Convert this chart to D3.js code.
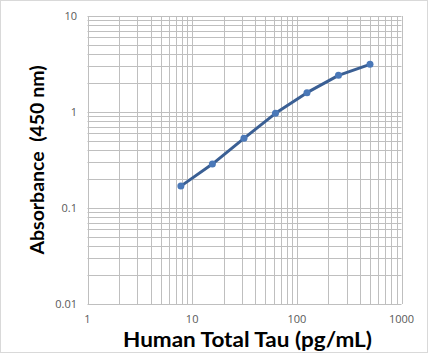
<!DOCTYPE html>
<html>
<head>
<meta charset="utf-8">
<script src="https://cdn.jsdelivr.net/npm/d3@7"></script>
<style>
  body { margin: 0; background: #fff; }
  svg { display: block; }
</style>
</head>
<body>
<svg id="chart"></svg>
<script>
const concentrations = [7.8, 15.6, 31.25, 62.5, 125, 250, 500];
const absorbance = [0.169, 0.287, 0.532, 0.968, 1.59, 2.41, 3.14];
const xTicks = [1, 10, 100, 1000];
const yTicks = [0.01, 0.1, 1, 10];

const width = 428;
const height = 355;
const margin = { top: 16, right: 26.5, bottom: 51, left: 87.5 };

const x = d3.scaleLog().domain([1, 1000]).range([margin.left, width - margin.right]);
const y = d3.scaleLog().domain([0.01, 10]).range([height - margin.bottom, margin.top]);

const svg = d3.select("#chart").attr("width", width).attr("height", height);

// outer frame
svg.append("rect")
  .attr("x", 0.5).attr("y", 0.5)
  .attr("width", width - 1).attr("height", height - 3)
  .attr("fill", "none").attr("stroke", "#d9d9d9");

// minor + major gridlines
const xGrid = x.ticks(); // 1..9 per decade
const yGrid = y.ticks();

svg.append("g")
  .selectAll("line")
  .data(xGrid)
  .join("line")
  .attr("x1", (d) => Math.round(x(d)) + 0.5)
  .attr("x2", (d) => Math.round(x(d)) + 0.5)
  .attr("y1", y(10)).attr("y2", y(0.01))
  .attr("stroke", "#bfbfbf");

svg.append("g")
  .selectAll("line")
  .data(yGrid)
  .join("line")
  .attr("y1", (d) => Math.round(y(d)) + 0.5)
  .attr("y2", (d) => Math.round(y(d)) + 0.5)
  .attr("x1", x(1)).attr("x2", x(1000))
  .attr("stroke", "#bfbfbf");

// tick labels
const fmt = (d) => (d >= 1 ? d3.format("d")(d) : String(d));

svg.append("g")
  .selectAll("text")
  .data(yTicks)
  .join("text")
  .attr("x", 77)
  .attr("y", (d) => y(d))
  .attr("dy", "0.35em")
  .attr("text-anchor", "end")
  .attr("font-family", "Open Sans, sans-serif")
  .attr("font-size", 11)
  .attr("fill", "#595959")
  .text(fmt);

svg.append("g")
  .selectAll("text")
  .data(xTicks)
  .join("text")
  .attr("x", (d) => x(d))
  .attr("y", 323)
  .attr("text-anchor", "middle")
  .attr("font-family", "Open Sans, sans-serif")
  .attr("font-size", 11)
  .attr("fill", "#595959")
  .text(fmt);

// axis titles
svg.append("text")
  .attr("x", 247.5)
  .attr("y", 347)
  .attr("text-anchor", "middle")
  .attr("font-family", "Lato, sans-serif")
  .attr("font-weight", "bold")
  .attr("font-size", 21)
  .attr("textLength", 249)
  .attr("lengthAdjust", "spacingAndGlyphs")
  .attr("fill", "#000")
  .text("Human Total Tau (pg/mL)");

svg.append("text")
  .attr("transform", "translate(44,160) rotate(-90)")
  .attr("text-anchor", "middle")
  .attr("font-family", "Lato, sans-serif")
  .attr("font-weight", "bold")
  .attr("font-size", 18)
  .attr("textLength", 189)
  .attr("lengthAdjust", "spacingAndGlyphs")
  .attr("fill", "#000")
  .style("white-space", "pre")
  .text("Absorbance  (450 nm)");

// data
const data = concentrations.map((c, i) => ({ c, a: absorbance[i] }));

svg.append("path")
  .datum(data)
  .attr("fill", "none")
  .attr("stroke", "#3a5f94")
  .attr("stroke-width", 3)
  .attr("stroke-linejoin", "round")
  .attr("d", d3.line().x((d) => x(d.c)).y((d) => y(d.a)));

svg.append("g")
  .selectAll("circle")
  .data(data)
  .join("circle")
  .attr("cx", (d) => x(d.c))
  .attr("cy", (d) => y(d.a))
  .attr("r", 3.5)
  .attr("fill", "#4a78b8");
</script>
</body>
</html>
